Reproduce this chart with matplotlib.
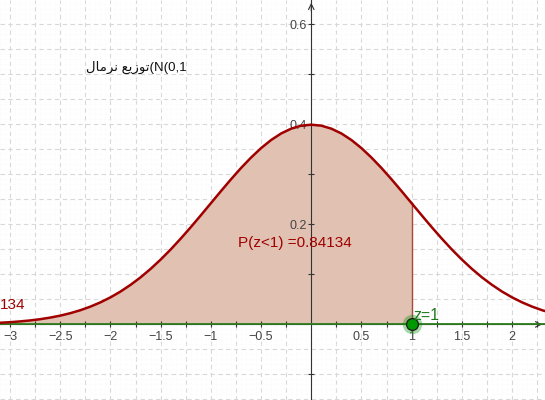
import matplotlib
matplotlib.use("Agg")
import matplotlib.pyplot as plt

# curve values (step 0.1)
xs = [-3.1, -3.0, -2.9, -2.8, -2.7, -2.6, -2.5, -2.4, -2.3, -2.2, -2.1, -2.0,
      -1.9, -1.8, -1.7, -1.6, -1.5, -1.4, -1.3, -1.2, -1.1, -1.0,
      -0.9, -0.8, -0.7, -0.6, -0.5, -0.4, -0.3, -0.2, -0.1, 0.0,
      0.1, 0.2, 0.3, 0.4, 0.5, 0.6, 0.7, 0.8, 0.9, 1.0,
      1.1, 1.2, 1.3, 1.4, 1.5, 1.6, 1.7, 1.8, 1.9, 2.0,
      2.1, 2.2, 2.3, 2.4]
ys = [0.0033, 0.0044, 0.0060, 0.0079, 0.0104, 0.0136, 0.0175, 0.0224, 0.0283, 0.0355, 0.0440, 0.0540,
      0.0656, 0.0790, 0.0940, 0.1109, 0.1295, 0.1497, 0.1714, 0.1942, 0.2179, 0.2420,
      0.2661, 0.2897, 0.3123, 0.3332, 0.3521, 0.3683, 0.3814, 0.3910, 0.3970, 0.3989,
      0.3970, 0.3910, 0.3814, 0.3683, 0.3521, 0.3332, 0.3123, 0.2897, 0.2661, 0.2420,
      0.2179, 0.1942, 0.1714, 0.1497, 0.1295, 0.1109, 0.0940, 0.0790, 0.0656, 0.0540,
      0.0440, 0.0355, 0.0283, 0.0224]
z_val = 1
prob_text = "P(z<1) =0.84134"
cut_text = "134"
# Arabic title in visual (shaped) order
title_text = "\uFEDD\uFE8E\uFEE3\uFEAE\uFEE7 \uFECA\uFEF3\uFEAF\uFEEE\uFE97(N(0,1"

x_major = [-3, -2.5, -2, -1.5, -1, -0.5, 0.5, 1, 1.5, 2]
x_labels = ["\u22123", "\u22122.5", "\u22122", "\u22121.5", "\u22121", "\u22120.5", "0.5", "1", "1.5", "2"]
y_major = [0.2, 0.4, 0.6]
y_labels = ["0.2", "0.4", "0.6"]

plt.rcParams["font.family"] = ["Liberation Sans", "DejaVu Sans"]

fig = plt.figure(figsize=(5.45, 4), dpi=100)
ax = fig.add_axes([0, 0, 1, 1])
ax.set_xlim(-3.10, 2.328)
ax.set_ylim(-0.151, 0.648)

# grid
for i in range(-70, 50):
    gx = i * 0.05
    if i % 5 == 0:
        ax.axvline(gx, color="#d8d8d8", lw=0.8, ls=(0, (4, 3)), zorder=0)
    else:
        ax.axvline(gx, color="#f6f6f6", lw=0.5, ls=(0, (1, 2)), zorder=0)
for i in range(-16, 66):
    gy = i * 0.01
    if i % 5 == 0:
        ax.axhline(gy, color="#d8d8d8", lw=0.8, ls=(0, (4, 3)), zorder=0)
    else:
        ax.axhline(gy, color="#f6f6f6", lw=0.5, ls=(0, (1, 2)), zorder=0)

# shaded area up to z
fx = [x for x in xs if x <= z_val]
fy = [y for x, y in zip(xs, ys) if x <= z_val]
ax.fill_between(fx, 0, fy, color="#e0c1b2", lw=0, zorder=1)
ax.plot([z_val, z_val], [0, fy[-1]], color="#a8473a", lw=1.0, zorder=2)

# axes
for s in ["top", "right"]:
    ax.spines[s].set_visible(False)
ax.spines["left"].set_position(("data", 0))
ax.spines["bottom"].set_position(("data", 0))
ax.spines["left"].set_color("#333333")
ax.spines["bottom"].set_color("#333333")
ax.spines["left"].set_zorder(3)
ax.set_xticks(x_major)
ax.set_xticklabels(x_labels)
ax.set_xticks([-2.75, -2.25, -1.75, -1.25, -0.75, -0.25, 0.25, 0.75, 1.25, 1.75, 2.25], minor=True)
ax.set_yticks(y_major)
ax.set_yticklabels(y_labels)
ax.set_yticks([-0.1, 0.1, 0.3, 0.5], minor=True)
ax.tick_params(axis="both", which="both", direction="inout", length=5, width=0.8,
               color="#333333", labelcolor="#444444", labelsize=9)
ax.tick_params(axis="x", pad=2)
ax.tick_params(axis="y", pad=1)
ax.annotate("", xy=(0, 0.648), xytext=(0, 0.62),
            arrowprops=dict(arrowstyle="->", color="#333333", lw=0.8))
ax.annotate("", xy=(2.328, 0), xytext=(2.25, 0),
            arrowprops=dict(arrowstyle="->", color="#333333", lw=0.8))

# green line on y = 0
ax.axhline(0, color="#2e7d1e", lw=1.3, zorder=4)

# curve
ax.plot(xs, ys, color="#a00000", lw=1.8, zorder=5)

# point z
ax.plot([z_val], [0], "o", ms=14, color="#008f00", alpha=0.35, mec="none", zorder=6)
ax.plot([z_val], [0], "o", ms=8.5, color="#009900", mec="#1a1a1a", mew=0.9, zorder=7)
ax.text(1.02, 0.003, "z=1", color="#1f7a1f", fontsize=11.5, ha="left", va="bottom", zorder=8)

# texts
ax.text(-0.73, 0.163, prob_text, color="#a00000", fontsize=11, ha="left", va="center", zorder=8)
ax.text(0, (400 - 305) / 400, cut_text, transform=ax.transAxes, color="#a00000",
        fontsize=11, ha="left", va="center", zorder=8)
ax.text(-2.24, 0.514, title_text, color="#111111", fontsize=9.5, ha="left", va="center",
        zorder=8)

fig.savefig("out.png", dpi=100)
